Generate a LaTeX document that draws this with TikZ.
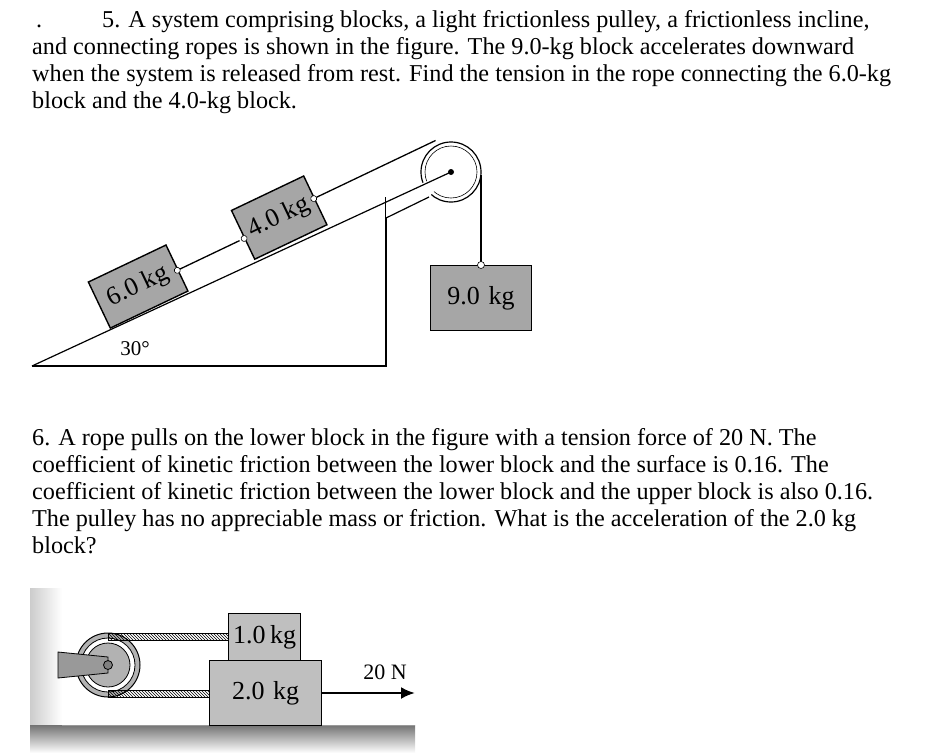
\documentclass[tikz,border=0pt]{standalone}
\usepackage{fontspec}
\setmainfont{Liberation Serif}
\usetikzlibrary{calc,patterns,arrows.meta}
\begin{document}
\begin{tikzpicture}[x=1pt,y=-1pt,
  txt/.style={anchor=base west,inner sep=0pt,font=\fontsize{24.2}{28}\selectfont},
  blk/.style={draw=black,line width=1.4pt,fill=black!35,inner sep=0pt,font=\fontsize{26}{28}\selectfont},
  ln/.style={line width=1.2pt},
  rope/.style={line width=1.3pt}]
\useasboundingbox (0,0) rectangle (928,753);
% texts
\node[txt] (d) at (36,27) {.};
\node[txt] (t1) at (102,27) {5. A system comprising blocks, a light frictionless pulley, a frictionless incline,};
\node[txt] (t2) at (32,54) {and connecting ropes is shown in the figure. The 9.0-kg block accelerates downward};
\node[txt] (t3) at (32,81) {when the system is released from rest. Find the tension in the rope connecting the 6.0-kg};
\node[txt] (t4) at (32,108) {block and the 4.0-kg block.};
\node[txt] (s1) at (32,445) {6. A rope pulls on the lower block in the figure with a tension force of 20 N. The};
\node[txt] (s2) at (32,472) {coefficient of kinetic friction between the lower block and the surface is 0.16. The};
\node[txt] (s3) at (32,499) {coefficient of kinetic friction between the lower block and the upper block is also 0.16.};
\node[txt] (s4) at (32,526) {The pulley has no appreciable mass or friction. What is the acceleration of the 2.0 kg};
\node[txt] (s5) at (32,553) {block?};
% ---- figure 1
\coordinate (A) at (32,366);
\coordinate (C) at (386,366);
\coordinate (P) at (451,172);
\draw[ln] (A) -- (C) -- (386,197);
% pulley
\draw[ln,fill=white] (P) circle (30);
\draw[line width=0.6pt] (P) circle (26);
\fill[white] (386,218) -- (429,197) -- (P) -- (386,197) -- cycle;
\draw[ln] (A) -- (P);
\draw[ln] (386,218) -- (429,197);
\fill (P) circle (3);
% blocks
\begin{scope}[shift={(110,329)},rotate=25.5,transform shape]
  \node[blk,minimum width=86,minimum height=51,anchor=south west] (b6) at (0,0) {6.0 kg};
  \draw[rope] (86,-24) -- (155,-24);
  \draw[fill=white,line width=0.6pt] (86,-24) circle (3);
  \node[blk,minimum width=80,minimum height=54,anchor=south west] (b4) at (160,0) {4.0 kg};
  \draw[fill=white,line width=0.6pt] (160,-24) circle (3);
  \draw[rope] (240,-30) -- (375,-30);
  \draw[fill=white,line width=0.6pt] (240,-30) circle (3);
\end{scope}
\node[blk,minimum width=101,minimum height=65,anchor=north] (b9) at (481,265) {9.0\,\,kg};
\draw[rope] (481,175) -- (b9.north);
\draw[fill=white,line width=0.6pt] (481,265) circle (3.5);
\node[anchor=base,font=\fontsize{21}{24}\selectfont] (ang) at (135,355) {30°};
% ---- figure 2
\shade[left color=black!20,right color=white] (30,588) rectangle (62,725);
\shade[top color=black!55,bottom color=white] (30,725) rectangle (415,753);
\draw[black!40,line width=0.6pt] (62,725) -- (415,725);
% pulley
\draw[line width=1pt,fill=black!30] (108,665) circle (32);
\draw[line width=0.8pt,fill=white] (108,665) circle (27);
\draw[line width=0.8pt,fill=black!30] (108,665) circle (22);
\draw[line width=0.8pt,fill=black!40] (58,652) -- (108,657) -- (108,673) -- (58,678) -- cycle;
\draw[line width=0.8pt,fill=black!50] (108,665) circle (4.5);
% ropes
\draw[line width=0.8pt,pattern=north west lines] (108,633) rectangle (228,640);
\draw[line width=0.8pt,pattern=north west lines] (108,690) rectangle (209,697);
\node[blk,line width=1.2pt,minimum width=72,minimum height=47,anchor=north west,fill=black!25] (b1) at (228,613) {1.0\,kg};
\node[blk,line width=1.2pt,minimum width=112,minimum height=65,anchor=north west,fill=black!25] (b2) at (209,660) {2.0\,\,kg};
\draw[line width=2.5pt,-{Latex[length=14pt,width=12pt]}] (b2.east |- 0,693) -- (415,693) coordinate (tip);
\node[anchor=base,font=\fontsize{22}{24}\selectfont] (f) at (385,679) {20 N};
\end{tikzpicture}
\end{document}
